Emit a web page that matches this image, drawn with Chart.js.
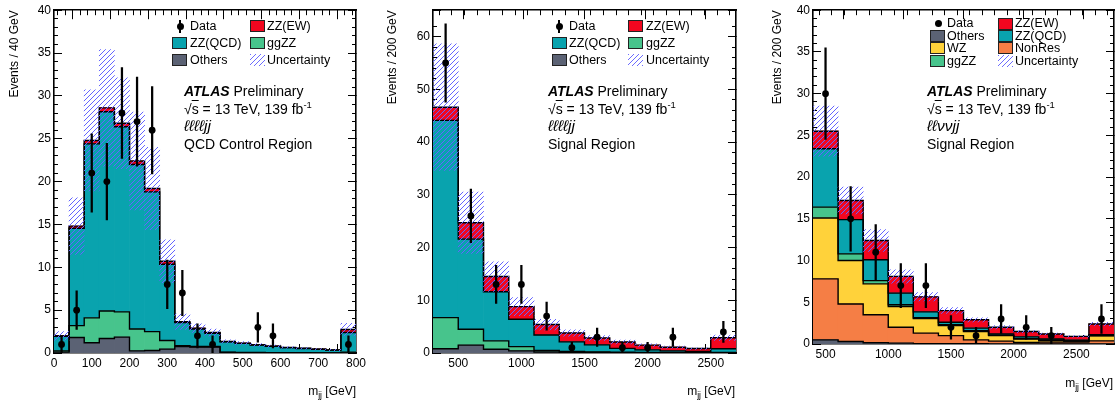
<!DOCTYPE html>
<html>
<head>
<meta charset="utf-8">
<script src="https://cdn.jsdelivr.net/npm/chart.js@4.4.1/dist/chart.umd.min.js"></script>
<style>
  body { margin: 0; background: #fff; }
  #wrap { position: relative; width: 1119px; height: 408px; overflow: hidden; font-family: "Liberation Sans", Arial, sans-serif; color: #000; }
  canvas { position: absolute; top: 0; }
  .t { position: absolute; white-space: nowrap; }
  .note { font-size: 14px; line-height: 17.6px; }
  .note sup { font-size: 9.5px; vertical-align: 6px; line-height: 0; }
  .note .fs { font-size: 15.5px; font-style: italic; line-height: 0; }
  .leg { font-size: 12.5px; line-height: 14px; }
  .box { position: absolute; width: 15px; height: 12px; border: 1px solid #222; box-sizing: border-box; }
  .hatch { border: none; background: repeating-linear-gradient(135deg, #6c6cff 0 1px, transparent 1px 3.6px); }
  .dot { position: absolute; width: 7px; height: 7px; border-radius: 50%; background: #000; }
  .ebar { position: absolute; width: 1.6px; height: 13px; background: #000; }
  .xt { font-size: 12px; line-height: 14px; }
  .xt sub { font-size: 8.5px; vertical-align: -3px; line-height: 0; }
</style>
</head>
<body>
<div id="wrap">
  <canvas id="c1" width="370" height="408" style="left:0px"></canvas>
  <canvas id="c2" width="380" height="408" style="left:370px"></canvas>
  <canvas id="c3" width="369" height="408" style="left:750px"></canvas>

  <!-- panel 1 legend -->
  <div class="ebar" style="left:179px;top:19.5px"></div><div class="dot" style="left:176.5px;top:22.5px"></div>
  <div class="t leg" style="left:190px;top:19px">Data</div>
  <div class="box" style="left:250px;top:20px;background:#f2061f"></div>
  <div class="t leg" style="left:267px;top:19px">ZZ(EW)</div>
  <div class="box" style="left:172px;top:36.5px;background:#09a3ae"></div>
  <div class="t leg" style="left:190px;top:35.5px">ZZ(QCD)</div>
  <div class="box" style="left:250px;top:36.5px;background:#47c48c"></div>
  <div class="t leg" style="left:267px;top:35.5px">ggZZ</div>
  <div class="box" style="left:172px;top:53.5px;background:#5b6274"></div>
  <div class="t leg" style="left:190px;top:52.5px">Others</div>
  <div class="box hatch" style="left:250px;top:53.5px"></div>
  <div class="t leg" style="left:267px;top:52.5px">Uncertainty</div>
  <div class="t note" style="left:184px;top:83px">
    <b><i>ATLAS</i></b> Preliminary<br>
    √<span style="text-decoration:overline">s</span> = 13 TeV, 139 fb<sup>-1</sup><br>
    <span class="fs">ℓℓℓℓjj</span><br>
    QCD Control Region
  </div>
  <div class="t xt" style="right:763px;top:384px">m<sub>jj</sub> [GeV]</div>

  <!-- panel 2 legend -->
  <div class="ebar" style="left:558px;top:19.5px"></div><div class="dot" style="left:555.5px;top:22.5px"></div>
  <div class="t leg" style="left:569px;top:19px">Data</div>
  <div class="box" style="left:628px;top:20px;background:#f2061f"></div>
  <div class="t leg" style="left:646px;top:19px">ZZ(EW)</div>
  <div class="box" style="left:552px;top:36.5px;background:#09a3ae"></div>
  <div class="t leg" style="left:569px;top:35.5px">ZZ(QCD)</div>
  <div class="box" style="left:628px;top:36.5px;background:#47c48c"></div>
  <div class="t leg" style="left:646px;top:35.5px">ggZZ</div>
  <div class="box" style="left:552px;top:53.5px;background:#5b6274"></div>
  <div class="t leg" style="left:569px;top:52.5px">Others</div>
  <div class="box hatch" style="left:628px;top:53.5px"></div>
  <div class="t leg" style="left:646px;top:52.5px">Uncertainty</div>
  <div class="t note" style="left:548px;top:83px">
    <b><i>ATLAS</i></b> Preliminary<br>
    √<span style="text-decoration:overline">s</span> = 13 TeV, 139 fb<sup>-1</sup><br>
    <span class="fs">ℓℓℓℓjj</span><br>
    Signal Region
  </div>
  <div class="t xt" style="right:384px;top:384px">m<sub>jj</sub> [GeV]</div>

  <!-- panel 3 legend -->
  <div class="dot" style="left:934.5px;top:19.5px"></div>
  <div class="t leg" style="left:947px;top:16px">Data</div>
  <div class="box" style="left:998px;top:17.5px;background:#f2061f"></div>
  <div class="t leg" style="left:1015px;top:16px">ZZ(EW)</div>
  <div class="box" style="left:930px;top:30px;background:#5b6274"></div>
  <div class="t leg" style="left:947px;top:28.5px">Others</div>
  <div class="box" style="left:998px;top:30px;background:#09a3ae"></div>
  <div class="t leg" style="left:1015px;top:28.5px">ZZ(QCD)</div>
  <div class="box" style="left:930px;top:42px;background:#ffd23a"></div>
  <div class="t leg" style="left:947px;top:40.5px">WZ</div>
  <div class="box" style="left:998px;top:42px;background:#f57e45"></div>
  <div class="t leg" style="left:1015px;top:40.5px">NonRes</div>
  <div class="box" style="left:930px;top:55px;background:#47c48c"></div>
  <div class="t leg" style="left:947px;top:53.5px">ggZZ</div>
  <div class="box hatch" style="left:998px;top:55px"></div>
  <div class="t leg" style="left:1015px;top:53.5px">Uncertainty</div>
  <div class="t note" style="left:927px;top:83px">
    <b><i>ATLAS</i></b> Preliminary<br>
    √<span style="text-decoration:overline">s</span> = 13 TeV, 139 fb<sup>-1</sup><br>
    <span class="fs">ℓℓννjj</span><br>
    Signal Region
  </div>
  <div class="t xt" style="right:6px;top:376px">m<sub>jj</sub> [GeV]</div>
</div>

<script>
// ---- panel 1: llll jj, QCD control region (40 GeV bins)
const edges1 = [0,40,80,120,160,200,240,280,320,360,400,440,480,520,560,600,640,680,720,760,800];
const others1 = [0.1,1.8,1.2,1.7,1.85,0.25,0.3,0.45,0.75,0.7,0.7,0.05,0.04,0.03,0.02,0.02,0.02,0.01,0.01,0.0];
const ggzz1 = [0.15,1.4,2.9,3.2,2.95,2.55,2.2,1.0,0.1,0.05,0.05,0.03,0.03,0.02,0.02,0.02,0.01,0.01,0.01,0.1];
const qcd1 = [1.7,11.35,20.3,23.25,21.6,19.2,16.3,8.9,2.7,2.05,1.55,1.24,1.05,0.88,0.74,0.59,0.5,0.41,0.31,2.3];
const ew1 = [0.05,0.25,0.4,0.45,0.4,0.4,0.4,0.35,0.1,0.1,0.1,0.03,0.03,0.02,0.02,0.02,0.02,0.02,0.02,0.35];
const unc1 = [0.5,3.3,5.9,6.8,5.3,5.7,4.8,2.5,0.9,0.5,0.4,0.2,0.18,0.15,0.13,0.1,0.09,0.08,0.07,0.7];
const data1 = [1,5,21,20,28,27,26,8,7,2,1,null,null,3,2,null,null,null,null,1];
const err1 = [1,2.24,4.58,4.47,5.29,5.2,5.1,2.83,2.65,1.41,1,null,null,1.73,1.41,null,null,null,null,1];
const xTicks1 = [0,100,200,300,400,500,600,700,800];
const yTicks1 = [0,5,10,15,20,25,30,35,40];

// ---- panel 2: llll jj, signal region (200 GeV bins)
const edges2 = [300,500,700,900,1100,1300,1500,1700,1900,2100,2300,2500,2700];
const others2 = [0.8,1.5,0.7,0.4,0.2,0.15,0.1,0.05,0.05,0.05,0.03,0.05];
const ggzz2 = [5.9,3.0,1.6,0.8,0.3,0.15,0.1,0.08,0.05,0.04,0.03,0.05];
const qcd2 = [37.4,17.1,9.3,5.2,2.9,1.8,1.35,0.75,0.5,0.31,0.24,0.7];
const ew2 = [2.5,3.1,2.9,2.4,2.0,1.7,1.3,1.2,0.9,0.7,0.55,2.1];
const unc2 = [12,5.8,2.8,1.7,1.0,0.6,0.45,0.35,0.25,0.2,0.15,0.5];
const data2 = [55,26,13,13,7,1,3,1,1,3,null,4];
const err2 = [7.42,5.1,3.61,3.61,2.65,1,1.73,1,1,1.73,null,2];
const xTicks2 = [500,1000,1500,2000,2500];
const yTicks2 = [0,10,20,30,40,50,60];

// ---- panel 3: llvv jj, signal region (200 GeV bins)
const edges3 = [400,600,800,1000,1200,1400,1600,1800,2000,2200,2400,2600,2800];
const others3 = [0.5,0.3,0.15,0.1,0.05,0.05,0.03,0.02,0.02,0.02,0.02,0.02];
const nonres3 = [7.3,4.5,3.35,1.9,1.25,0.95,0.47,0.33,0.18,0.2,0.2,0.35];
const wz3 = [7.3,5.2,3.7,2.5,1.75,1.2,1.0,0.65,0.4,0.2,0.12,0.6];
const ggzz3 = [1.3,0.8,0.4,0.2,0.1,0.1,0.1,0.05,0.05,0.03,0.02,0.05];
const qcd3 = [7.0,4.1,2.5,1.4,0.7,0.3,0.3,0.15,0.2,0.15,0.1,0.08];
const ew3 = [2.1,2.3,2.3,2.0,1.8,1.4,1.0,0.8,0.65,0.6,0.45,1.3];
const unc3 = [3.0,1.6,1.3,0.8,0.5,0.35,0.25,0.2,0.15,0.12,0.1,0.2];
const data3 = [30,15,11,7,7,2,1,3,2,1,null,3];
const err3 = [5.48,3.87,3.32,2.65,2.65,1.41,1,1.73,1.41,1,null,1.73];
const xTicks3 = [500,1000,1500,2000,2500];
const yTicks3 = [0,5,10,15,20,25,30,35,40];

const C = { others: '#5b6274', gg: '#47c48c', qcd: '#09a3ae', ew: '#f2061f', wz: '#ffd23a', nonres: '#f57e45' };

Chart.defaults.font.family = '"Liberation Sans", Arial, sans-serif';
Chart.defaults.color = '#000';

// blue "///" hatching for the uncertainty band
const hatch = (() => {
  const c = document.createElement('canvas');
  c.width = 5; c.height = 5;
  const g = c.getContext('2d');
  g.strokeStyle = 'rgb(100,100,255)';
  g.lineWidth = 1;
  g.beginPath();
  g.moveTo(0, 5); g.lineTo(5, 0);
  g.moveTo(-1, 1); g.lineTo(1, -1);
  g.moveTo(4, 6); g.lineTo(6, 4);
  g.stroke();
  return g.createPattern(c, 'repeat');
})();

const setTicks = list => s => { s.ticks = list.map(v => ({ value: v })); };

function tickAxis(pos, min, max, step, len, border) {
  return {
    type: 'linear', position: pos, min: min, max: max, offset: false, weight: 0,
    ticks: { display: false, stepSize: step },
    grid: { drawOnChartArea: false, drawTicks: true, tickLength: -len, color: '#000', lineWidth: 1 },
    border: { display: border, color: '#000', width: 1.6 },
    afterFit: s => { if (s.isHorizontal()) s.height = 0; else s.width = 0; }
  };
}

function drawPanel(id, p) {
  const edges = p.edges;
  const centers = edges.slice(0, -1).map((e, i) => (e + edges[i + 1]) / 2);
  let cum = centers.map(() => 0);
  const fills = [], lines = [];
  p.layers.forEach(([name, vals, color]) => {
    const lo = cum.slice();
    cum = cum.map((c, i) => c + vals[i]);
    const hi = cum.slice();
    fills.push({
      type: 'bar', label: name, order: 4, xAxisID: 'x', yAxisID: 'y',
      data: centers.map((x, i) => ({ x: x, y: [lo[i], hi[i]] })),
      backgroundColor: color, borderWidth: 0, grouped: false,
      categoryPercentage: 1, barPercentage: 1
    });
    lines.push({
      type: 'line', order: 3, xAxisID: 'x', yAxisID: 'y',
      data: edges.map((x, i) => ({ x: x, y: hi[Math.min(i, hi.length - 1)] })),
      stepped: 'before', borderColor: '#000', borderWidth: 1.4, pointRadius: 0, fill: false
    });
  });
  const band = {
    type: 'bar', order: 2, xAxisID: 'x', yAxisID: 'y',
    data: centers.map((x, i) => ({ x: x, y: [cum[i] - p.unc[i], cum[i] + p.unc[i]] })),
    backgroundColor: hatch, borderWidth: 0, grouped: false,
    categoryPercentage: 1, barPercentage: 1
  };
  const idx = centers.map((x, i) => i).filter(i => p.data[i] != null);
  const errBars = {
    type: 'bar', order: 1, xAxisID: 'x', yAxisID: 'y',
    data: idx.map(i => ({ x: centers[i], y: [p.data[i] - p.err[i], p.data[i] + p.err[i]] })),
    backgroundColor: '#000', borderWidth: 0, grouped: false, barThickness: 1.6
  };
  const points = {
    type: 'line', order: 0, xAxisID: 'x', yAxisID: 'y',
    data: idx.map(i => ({ x: centers[i], y: p.data[i] })),
    showLine: false, pointRadius: 3.4, pointBackgroundColor: '#000', pointBorderWidth: 0
  };

  const xmin = edges[0], xmax = edges[edges.length - 1];
  const a = p.area;
  new Chart(document.getElementById(id), {
    type: 'bar',
    data: { datasets: [points, errBars, band, ...lines, ...fills] },
    options: {
      responsive: false,
      maintainAspectRatio: false,
      animation: false,
      events: [],
      layout: { padding: { left: 0, top: a.top, right: a.width - a.right, bottom: 0 } },
      plugins: { legend: { display: false }, tooltip: { enabled: false } },
      scales: {
        x: {
          type: 'linear', position: 'bottom', weight: 1, min: xmin, max: xmax, offset: false,
          grid: { display: false, drawTicks: false },
          border: { display: true, color: '#000', width: 1.6 },
          ticks: { autoSkip: false, maxRotation: 0, padding: 3, color: '#000', font: { size: 12 }, callback: v => String(v) },
          afterBuildTicks: setTicks(p.xTicks),
          afterFit: s => { s.height = 408 - a.bottom; }
        },
        y: {
          type: 'linear', position: 'left', weight: 1, min: 0, max: p.yMax,
          grid: { display: false, drawTicks: false },
          border: { display: true, color: '#000', width: 1.6 },
          ticks: { padding: 3, color: '#000', font: { size: 12 }, callback: v => String(v) },
          afterBuildTicks: setTicks(p.yTicks),
          title: { display: true, text: p.yTitle, align: 'end', color: '#000', font: { size: 12 }, padding: { top: p.titlePad, bottom: 0 } },
          afterFit: s => { s.width = a.left; }
        },
        xMaj: tickAxis('bottom', xmin, xmax, p.xMajor, 9, false),
        xMin: tickAxis('bottom', xmin, xmax, p.xMinor, 5, false),
        xTMaj: tickAxis('top', xmin, xmax, p.xMajor, 9, true),
        xTMin: tickAxis('top', xmin, xmax, p.xMinor, 5, false),
        yMaj: tickAxis('left', 0, p.yMax, p.yMajor, 8, false),
        yMin: tickAxis('left', 0, p.yMax, p.yMinor, 4, false),
        yRMaj: tickAxis('right', 0, p.yMax, p.yMajor, 8, true),
        yRMin: tickAxis('right', 0, p.yMax, p.yMinor, 4, false)
      }
    }
  });
}

drawPanel('c1', {
  edges: edges1,
  layers: [['Others', others1, C.others], ['ggZZ', ggzz1, C.gg], ['ZZ(QCD)', qcd1, C.qcd], ['ZZ(EW)', ew1, C.ew]],
  unc: unc1, data: data1, err: err1, xTicks: xTicks1, yTicks: yTicks1,
  yMax: 40, yMajor: 5, yMinor: 1, xMajor: 100, xMinor: 20,
  yTitle: 'Events / 40 GeV', titlePad: 7,
  area: { width: 370, left: 54, right: 356, top: 4, bottom: 353 }
});

drawPanel('c2', {
  edges: edges2,
  layers: [['Others', others2, C.others], ['ggZZ', ggzz2, C.gg], ['ZZ(QCD)', qcd2, C.qcd], ['ZZ(EW)', ew2, C.ew]],
  unc: unc2, data: data2, err: err2, xTicks: xTicks2, yTicks: yTicks2,
  yMax: 65, yMajor: 10, yMinor: 2, xMajor: 500, xMinor: 100,
  yTitle: 'Events / 200 GeV', titlePad: 15,
  area: { width: 380, left: 63, right: 366, top: 4, bottom: 353 }
});

drawPanel('c3', {
  edges: edges3,
  layers: [['Others', others3, C.others], ['NonRes', nonres3, C.nonres], ['WZ', wz3, C.wz], ['ggZZ', ggzz3, C.gg], ['ZZ(QCD)', qcd3, C.qcd], ['ZZ(EW)', ew3, C.ew]],
  unc: unc3, data: data3, err: err3, xTicks: xTicks3, yTicks: yTicks3,
  yMax: 40, yMajor: 5, yMinor: 1, xMajor: 500, xMinor: 100,
  yTitle: 'Events / 200 GeV', titlePad: 20,
  area: { width: 369, left: 63, right: 364, top: 9, bottom: 344 }
});
</script>
</body>
</html>
